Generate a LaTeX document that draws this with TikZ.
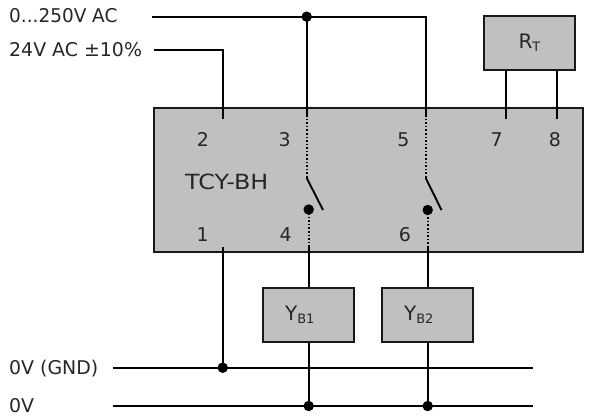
\documentclass[tikz,border=0pt]{standalone}
\usepackage{fontspec}
\setmainfont{DejaVu Sans}
\newcommand{\lowidx}[1]{{\fontsize{13}{13}\selectfont\raisebox{-3pt}{#1}}}
\tikzset{
  wire/.style={draw=black,line width=1.9pt,line cap=butt},
  dotwire/.style={draw=black,line width=1.7pt,dash pattern=on 1.6pt off 2pt},
  unitbox/.style={draw=black!90,line width=1.9pt,fill=boxgray,inner sep=0pt,font=\fontsize{20}{22}\selectfont,text=black!85},
  junction/.style={circle,fill=black,inner sep=0pt,minimum size=10.5pt},
  lbl/.style={inner sep=0pt,anchor=base west,font=\fontsize{19}{20}\selectfont,text=black!85},
  num/.style={inner sep=0pt,anchor=base,font=\fontsize{19}{20}\selectfont,text=black!85}
}
\definecolor{boxgray}{HTML}{C0C0C0}
\begin{document}
\begin{tikzpicture}[x=1bp,y=-1bp]
\useasboundingbox (0,0) rectangle (592,417);
% main unit
\node[unitbox,minimum width=429bp,minimum height=144bp] (unit) at (368.5,180) {};
\node[unitbox,minimum width=91bp,minimum height=54bp] (rt) at (529.5,43) {R\lowidx{T}};
\node[unitbox,minimum width=91bp,minimum height=54bp] (yb1) at (308.7,315) {\hspace{-18pt}Y\lowidx{B1}};
\node[unitbox,minimum width=91bp,minimum height=54bp] (yb2) at (427.7,315) {\hspace{-18pt}Y\lowidx{B2}};
% labels
\node[lbl] (l1) at (9,22.5) {\scalebox{0.975}[1]{0...250V AC}};
\node[lbl] (l2) at (9,56.5) {24V AC ±10\%};
\node[lbl] (l3) at (9,374.5) {0V (GND)};
\node[lbl] (l4) at (9,412.5) {0V};
\node[lbl] (tcy) at (185,189.5) {\fontsize{21}{22}\selectfont\scalebox{1.14}[1]{TCY-BH}};
\node[num] (n2) at (203,146.5) {2};
\node[num] (n3) at (284.7,146.5) {3};
\node[num] (n5) at (403.5,146.5) {5};
\node[num] (n7) at (496.7,146.5) {7};
\node[num] (n8) at (555,146.5) {8};
\node[num] (n1) at (202.7,241) {1};
\node[num] (n4) at (285.7,241) {4};
\node[num] (n6) at (405,241) {6};
% coordinates
\coordinate (a0) at (152,16.7);
\coordinate (aJ) at (306.7,16.7);
\coordinate (aE) at (425.7,16.7);
\coordinate (b0) at (154,49.7);
\coordinate (bC) at (222.7,49.7);
\coordinate (bE) at (222.7,119);
\coordinate (s3a) at (306.7,115);
\coordinate (s3b) at (306.7,178);
\coordinate (s3c) at (323,210);
\coordinate (s5a) at (425.7,115);
\coordinate (s5b) at (425.7,178);
\coordinate (s5c) at (441.5,210);
\coordinate (d4) at (308.7,209.5);
\coordinate (d4b) at (308.7,247);
\coordinate (d6) at (427.7,210);
\coordinate (d6b) at (427.7,247);
\coordinate (t1) at (222.7,247);
\coordinate (t7) at (505.7,119);
\coordinate (t8) at (556.7,119);
\coordinate (g0) at (112.5,367.7);
\coordinate (gJ) at (222.7,367.7);
\coordinate (gE) at (532.7,367.7);
\coordinate (z0) at (112.5,406);
\coordinate (z1) at (308.7,406);
\coordinate (z2) at (427.7,406);
\coordinate (zE) at (532.7,406);
% wires
\draw[wire] (a0) -- (aE) -- (s5a);
\draw[wire] (aJ) -- (s3a);
\draw[wire] (b0) -- (bC) -- (bE);
\draw[dotwire] (s3a) -- (s3b);
\draw[dotwire] (s5a) -- (s5b);
\draw[wire] (s3b) -- (s3c);
\draw[wire] (s5b) -- (s5c);
\draw[dotwire] (d4) -- (d4b);
\draw[dotwire] (d6) -- (d6b);
\draw[wire] (d4b) -- (yb1.north);
\draw[wire] (d6b) -- (yb2.north);
\draw[wire] (yb1.south) -- (z1);
\draw[wire] (yb2.south) -- (z2);
\draw[wire] (t1) -- (gJ);
\draw[wire] (t7) -- (t7 |- rt.south);
\draw[wire] (t8) -- (t8 |- rt.south);
\draw[wire] (g0) -- (gE);
\draw[wire] (z0) -- (zE);
% junctions
\node[junction] (j1) at (aJ) {};
\node[junction] (j2) at (d4) {};
\node[junction] (j3) at (d6) {};
\node[junction] (j4) at (gJ) {};
\node[junction] (j5) at (z1) {};
\node[junction] (j6) at (z2) {};
\end{tikzpicture}
\end{document}
